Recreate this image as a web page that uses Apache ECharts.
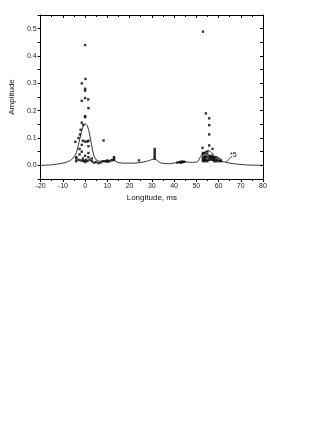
<!DOCTYPE html>
<html><head><meta charset="utf-8">
<script src="https://cdn.jsdelivr.net/npm/echarts@6/dist/echarts.min.js"></script>
<style>html,body{margin:0;padding:0;background:#fff}#c{width:317px;height:448px}</style>
</head><body><div id="c"></div>
<script>
// Fitted curve (x5)
var curveX = [-20,-15,-10,-7,-5.5,-4,-3,-2,-1,0,1,2,3,4,5,6,8,10,11,12,13,15,18,22,26,29,31,32,34,38,41.6,44.6,47.5,50.5,52,53.4,55.6,57.1,59.3,62.3,66.7,72.6,80];
var curveY = [0.0,0.002,0.008,0.016,0.026,0.045,0.075,0.11,0.14,0.152,0.145,0.115,0.07,0.035,0.02,0.016,0.015,0.015,0.018,0.022,0.018,0.01,0.008,0.008,0.012,0.018,0.023,0.02,0.009,0.006,0.011,0.013,0.011,0.013,0.033,0.047,0.053,0.045,0.021,0.013,0.006,0.0015,0.0];
// Measured amplitudes
var ptsX = [0,0.2,-1.5,0,0,-1.5,0,1.4,1.5,0,0,-1.5,-0.8,-2,-2.3,-3,-4.4,-1,0,1,1.5,-1.5,1.5,-2.5,-1.5,1.5,-2.5,0,1.5,-4,-4,-4,-3,-2,-1,0,1,2,3,4,5,6,7,8,9,10,11,12,13,13,13,10,3,-1,-0.5,0.5,8.3,24.2,
 31.3,31.3,31.3,31.3,31.3,31.3,
 41.5,42.5,43.5,44,44.6,43,
 53,54.3,55.8,55.8,55.8,55.8,52.8,57.3,
 53,53,53,53,53,53,54,54,54,54,54,54,55,55,55,55,55,56,56,56,56,57,57,57,57,58,58,58,58,59,59,59,60,60,61,61];
var ptsY = [0.44,0.316,0.30,0.28,0.273,0.236,0.246,0.241,0.209,0.18,0.176,0.156,0.148,0.13,0.113,0.10,0.086,0.09,0.087,0.087,0.09,0.075,0.07,0.06,0.05,0.045,0.04,0.035,0.03,0.03,0.025,0.015,0.02,0.018,0.016,0.012,0.015,0.02,0.015,0.01,0.012,0.008,0.01,0.015,0.015,0.013,0.015,0.018,0.02,0.025,0.03,0.018,0.025,0.025,0.017,0.02,0.091,0.018,
 0.06,0.052,0.045,0.038,0.031,0.025,
 0.01,0.012,0.014,0.012,0.013,0.009,
 0.489,0.19,0.172,0.147,0.113,0.073,0.064,0.06,
 0.045,0.04,0.03,0.025,0.02,0.015,0.045,0.035,0.03,0.025,0.02,0.015,0.05,0.04,0.03,0.02,0.015,0.035,0.03,0.025,0.02,0.035,0.03,0.025,0.02,0.03,0.025,0.02,0.015,0.03,0.02,0.015,0.025,0.015,0.02,0.015];
var xTicks = [-20,-10,0,10,20,30,40,50,60,70,80];
var yTicks = [0.0,0.1,0.2,0.3,0.4,0.5];
var noteLabel = '*5';

var chart = echarts.init(document.getElementById('c'), null, {renderer:'canvas'});
var lineData = curveX.map(function(x,i){return [x, curveY[i]];});
var ptData = ptsX.map(function(x,i){return [x, ptsY[i]];});
var font = 'Arial, "Liberation Sans", sans-serif';
var axisLine = {show:true, onZero:false, lineStyle:{color:'#000', width:1}};
chart.setOption({
  animation:false,
  grid:{left:37, right:54, top:15, bottom:269},
  xAxis:[{
    type:'value', position:'bottom', min:xTicks[0], max:xTicks[xTicks.length-1], interval:10,
    axisLine:axisLine, splitLine:{show:false},
    axisTick:{show:true, length:3, inside:false, lineStyle:{color:'#000'}},
    minorTick:{show:true, splitNumber:2, length:2, lineStyle:{color:'#000'}},
    axisLabel:{fontSize:7, color:'#222', fontFamily:font, margin:4},
    name:'Longitude, ms', nameLocation:'middle', nameGap:15,
    nameTextStyle:{fontSize:8, color:'#111', fontFamily:font}
  },{
    type:'value', position:'top', min:xTicks[0], max:xTicks[xTicks.length-1], interval:10,
    axisLine:axisLine, splitLine:{show:false},
    axisTick:{show:true, length:3, inside:true, lineStyle:{color:'#000'}},
    minorTick:{show:true, splitNumber:2, length:2, lineStyle:{color:'#000'}},
    axisLabel:{show:false}
  }],
  yAxis:[{
    type:'value', position:'left', min:-0.05, max:0.55, interval:0.05,
    axisLine:axisLine, splitLine:{show:false},
    axisTick:{show:true, length:3, inside:false, lineStyle:{color:'#000'}},
    axisLabel:{fontSize:7, color:'#222', fontFamily:font, margin:4,
      formatter:function(v){
        for (var i=0;i<yTicks.length;i++){ if (Math.abs(v-yTicks[i])<1e-6) return yTicks[i].toFixed(1); }
        return '';
      }},
    name:'Amplitude', nameLocation:'middle', nameGap:20,
    nameTextStyle:{fontSize:8, color:'#111', fontFamily:font}
  },{
    type:'value', position:'right', min:-0.05, max:0.55, interval:0.05,
    axisLine:axisLine, splitLine:{show:false},
    axisTick:{show:true, length:3, inside:true, lineStyle:{color:'#000'}},
    axisLabel:{show:false}
  }],
  series:[{
    type:'line', data:lineData, smooth:0.3, symbol:'none',
    lineStyle:{color:'#000', width:0.8},
    markLine:{
      silent:true, symbol:['none','none'],
      lineStyle:{color:'#000', width:0.7, type:'solid'},
      label:{show:true, position:'end', formatter:noteLabel, fontSize:7, color:'#111', fontFamily:font, distance:2},
      data:[[{coord:[63.5,0.012]},{coord:[66,0.034]}]]
    }
  },{
    type:'scatter', data:ptData, symbol:'rect', symbolSize:2.4,
    itemStyle:{color:'#000'}
  }]
});
</script></body></html>
